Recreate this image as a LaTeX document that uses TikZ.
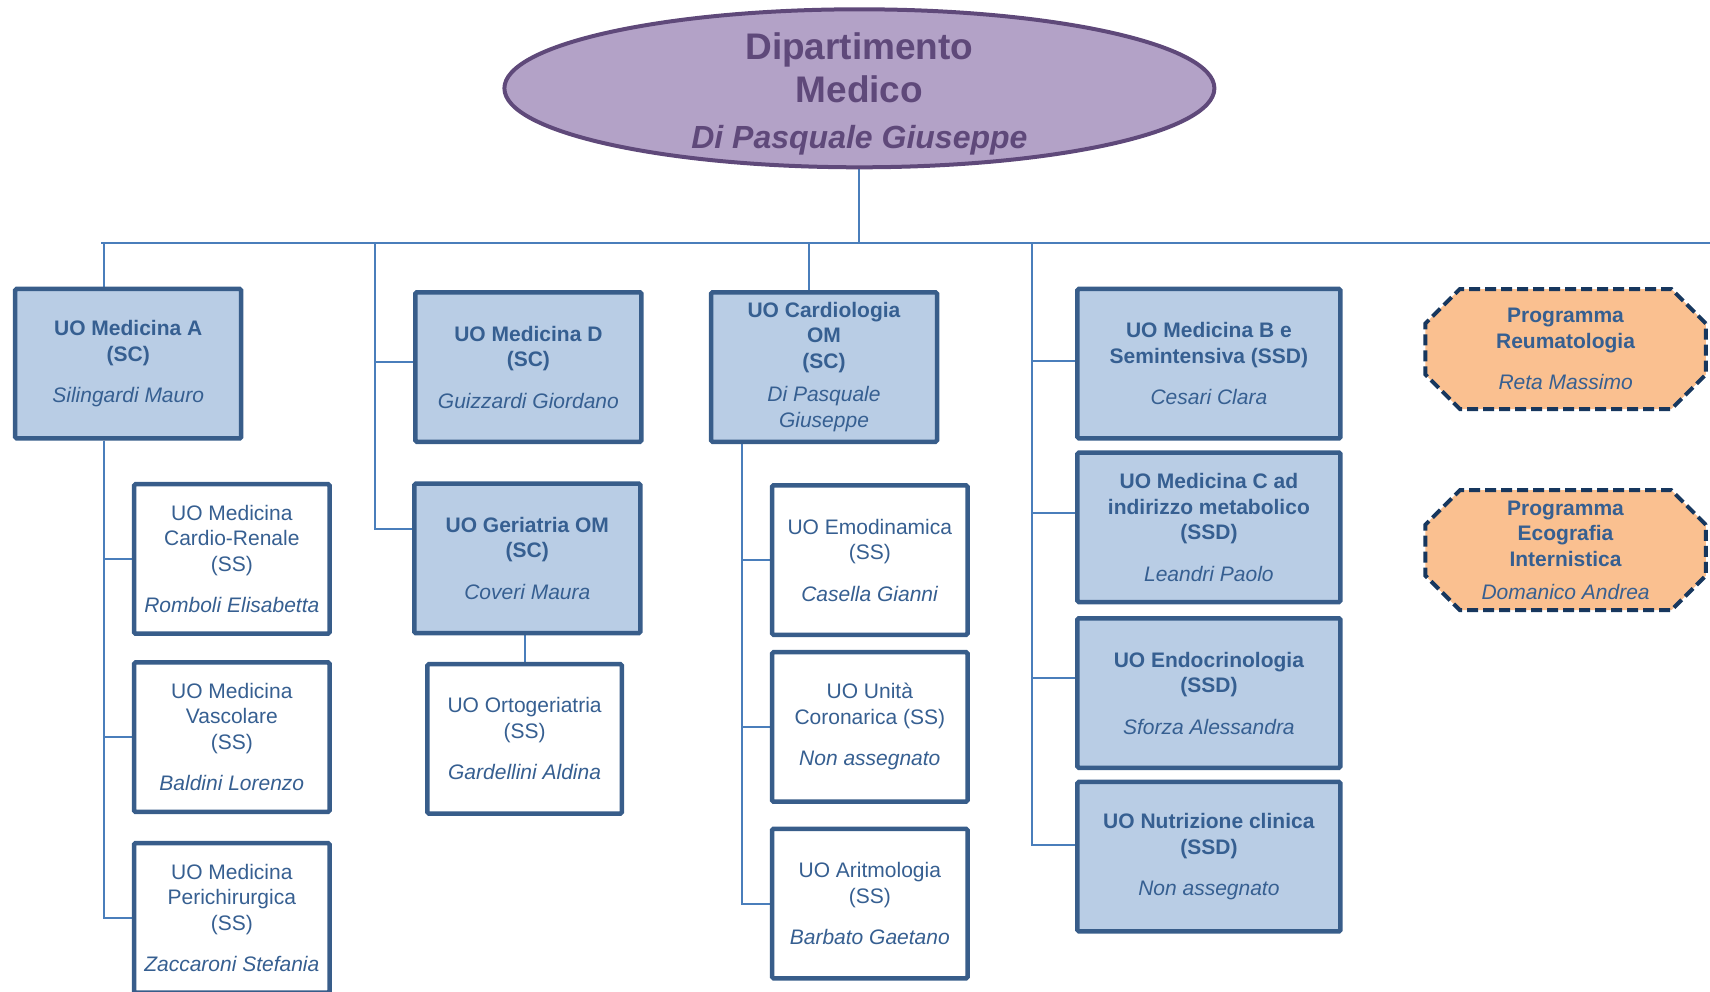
\documentclass[tikz,border=0pt]{standalone}
\usepackage{fontspec}
\setmainfont{Liberation Sans}
\usetikzlibrary{shapes.misc,shapes.geometric,backgrounds}
\definecolor{boxfill}{HTML}{B9CDE5}
\definecolor{boxline}{HTML}{385D8A}
\definecolor{txtblue}{HTML}{365F91}
\definecolor{conncol}{HTML}{4A7EBB}
\definecolor{orfill}{HTML}{FAC090}
\definecolor{orline}{HTML}{17375E}
\definecolor{pfill}{HTML}{B3A2C7}
\definecolor{pline}{HTML}{5F497A}
\begin{document}
\begin{tikzpicture}[x=1pt,y=-1pt,
  basebox/.style={draw=boxline, line width=4.5pt, rounded corners=1.5pt, align=center, text=txtblue, inner sep=0pt, font=\fontsize{21}{25.5}\selectfont, minimum height=149.5pt},
  scbox/.style={basebox, fill=boxfill, minimum width=226pt},
  ssbox/.style={basebox, fill=white, minimum width=195.5pt},
  ssdbox/.style={basebox, fill=boxfill, minimum width=263pt},
  progbox/.style={chamfered rectangle, chamfered rectangle xsep=31pt, draw=orline, fill=orfill, line width=4pt, dash pattern=on 11pt off 5pt, minimum width=280.5pt, minimum height=120pt, align=center, text=txtblue, inner sep=0pt, font=\fontsize{21}{25.5}\selectfont},
  deptshape/.style={ellipse, draw=pline, fill=pfill, line width=4pt, minimum width=710pt, minimum height=158pt, inner sep=0pt},
  link/.style={draw=conncol, line width=2pt},
]
\useasboundingbox (0,0) rectangle (1710,991);

% department
\node[deptshape] (dept) at (859.4,88.3) {};
\node[anchor=base, text=pline, font=\fontsize{37}{44}\selectfont\bfseries] (t1) at (859.4,59) {Dipartimento};
\node[anchor=base, text=pline, font=\fontsize{37}{44}\selectfont\bfseries] (t2) at (859.4,102.7) {Medico};
\node[anchor=base, text=pline, font=\fontsize{32}{38}\selectfont\bfseries\itshape] (t3) at (859.4,148.9) {Di Pasquale Giuseppe};

% column 1
\node[scbox] (A) at (128.2,363.7) {\textbf{UO Medicina A}\\\textbf{(SC)}\\[16pt]\textit{Silingardi Mauro}};
\node[ssbox] (CR) at (231.8,558.9) {UO Medicina\\Cardio-Renale\\(SS)\\[16pt]\textit{Romboli Elisabetta}};
\node[ssbox] (VA) at (231.8,737.2) {UO Medicina\\Vascolare\\(SS)\\[16pt]\textit{Baldini Lorenzo}};
\node[ssbox] (PE) at (231.8,917.8) {UO Medicina\\Perichirurgica\\(SS)\\[16pt]\textit{Zaccaroni Stefania}};

% column 2
\node[scbox] (D) at (528.4,367) {\textbf{UO Medicina D}\\\textbf{(SC)}\\[16pt]\textit{Guizzardi Giordano}};
\node[scbox] (G) at (527.3,558.4) {\textbf{UO Geriatria OM}\\\textbf{(SC)}\\[16pt]\textit{Coveri Maura}};
\node[ssbox, minimum width=194.5pt] (OG) at (524.6,738.9) {UO Ortogeriatria\\(SS)\\[16pt]\textit{Gardellini Aldina}};

% column 3
\node[scbox] (Card) at (824,367) {\textbf{UO Cardiologia}\\\textbf{OM}\\\textbf{(SC)}\\[8pt]\textit{Di Pasquale}\\\textit{Giuseppe}};
\node[ssbox] (EM) at (869.8,560) {UO Emodinamica\\(SS)\\[16pt]\textit{Casella Gianni}};
\node[ssbox] (UC) at (869.8,726.9) {UO Unità\\Coronarica (SS)\\[16pt]\textit{Non assegnato}};
\node[ssbox] (AR) at (869.8,903.6) {UO Aritmologia\\(SS)\\[16pt]\textit{Barbato Gaetano}};

% column 4
\node[ssdbox] (B) at (1208.9,363.7) {\textbf{UO Medicina B e}\\\textbf{Semintensiva (SSD)}\\[16pt]\textit{Cesari Clara}};
\node[ssdbox] (C) at (1208.9,527.3) {\textbf{UO Medicina C ad}\\\textbf{indirizzo metabolico}\\\textbf{(SSD)}\\[16pt]\textit{Leandri Paolo}};
\node[ssdbox] (EN) at (1208.9,693) {\textbf{UO Endocrinologia}\\\textbf{(SSD)}\\[16pt]\textit{Sforza Alessandra}};
\node[ssdbox] (NU) at (1208.9,856.7) {\textbf{UO Nutrizione clinica}\\\textbf{(SSD)}\\[16pt]\textit{Non assegnato}};

% programmes
\node[progbox] (R) at (1565.6,349) {\textbf{Programma}\\\textbf{Reumatologia}\\[16pt]\textit{Reta Massimo}};
\node[progbox] (E) at (1565.6,550.2) {\textbf{Programma}\\\textbf{Ecografia}\\\textbf{Internistica}\\[8pt]\textit{Domanico Andrea}};

\begin{pgfonlayer}{background}
\coordinate (busL) at (101,243);
\coordinate (busR) at (1710,243);
\coordinate (xA) at (104,0);
\coordinate (xD) at (375,0);
\coordinate (xC) at (809.2,0);
\coordinate (xCb) at (741.6,0);
\coordinate (xR) at (1031.7,0);
\draw[link] (busL) -- (busR);
\draw[link] (dept.south) -- (dept.south |- busL);
% column 1
\draw[link] (xA |- busL) -- (xA |- A.north);
\draw[link] (xA |- A.south) |- (CR.west);
\draw[link] (xA |- A.south) |- (VA.west);
\draw[link] (xA |- A.south) |- (PE.west);
% column 2
\draw[link] (xD |- busL) |- ([yshift=5pt]D.west);
\draw[link] (xD |- busL) |- ([yshift=29.4pt]G.west);
\draw[link] (OG.north |- G.south) -- (OG.north);
% column 3
\draw[link] (xC |- busL) -- (xC |- Card.north);
\draw[link] (xCb |- Card.south) |- (EM.west);
\draw[link] (xCb |- Card.south) |- (UC.west);
\draw[link] (xCb |- Card.south) |- (AR.west);
% column 4
\draw[link] (xR |- busL) |- ([yshift=2.7pt]B.west);
\draw[link] (xR |- busL) |- ([yshift=14.7pt]C.west);
\draw[link] (xR |- busL) |- ([yshift=14.6pt]EN.west);
\draw[link] (xR |- busL) |- ([yshift=11.5pt]NU.west);
\end{pgfonlayer}
\end{tikzpicture}
\end{document}
